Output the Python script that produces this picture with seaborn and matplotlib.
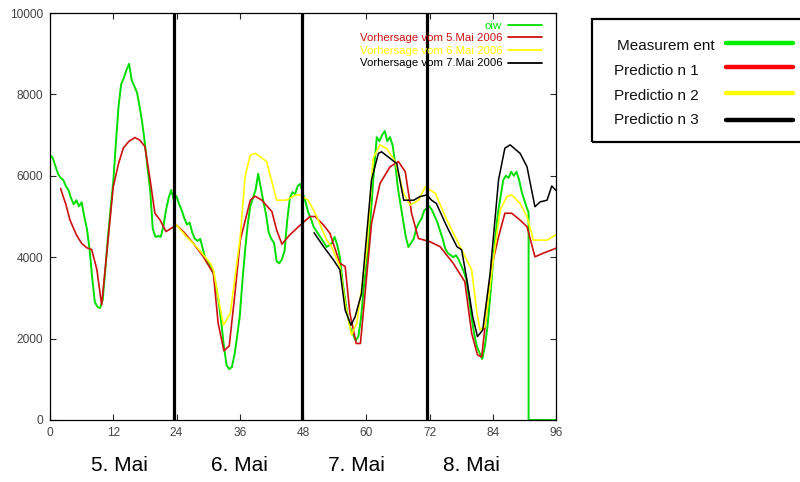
import numpy as np
import pandas as pd
import matplotlib
matplotlib.use("Agg")
import matplotlib.pyplot as plt
from matplotlib.lines import Line2D
from matplotlib.patches import Rectangle
import matplotlib.transforms as mtransforms
import seaborn as sns

# ---------------- data ----------------
meas_values = [
    6500, 6450, 6250, 6050, 5950, 5900, 5750, 5650, 5450, 5300,   # 0 - 4.5
    5400, 5250, 5350, 5000, 4700, 4200, 3500, 2900, 2780, 2750,   # 5 - 9.5
    2950, 3700, 4500, 5200, 5850, 6800, 7700, 8250, 8400, 8600,   # 10 - 14.5
    8750, 8350, 8200, 8050, 7700, 7300, 6800, 6200, 5650, 4700,   # 15 - 19.5
    4500, 4520, 4500, 4750, 5150, 5450, 5650, 5400, 5500, 5300,   # 20 - 24.5
    5150, 4950, 4800, 4850, 4600, 4450, 4400, 4450, 4200, 3950,   # 25 - 29.5
    3850, 3780, 3600, 3300, 2900, 2400, 1800, 1350, 1250, 1300,   # 30 - 34.5
    1600, 2050, 2550, 3400, 4150, 4800, 5250, 5450, 5650, 6050,   # 35 - 39.5
    5700, 5350, 5050, 4600, 4450, 4350, 3900, 3850, 3950, 4150,   # 40 - 44.5
    4900, 5450, 5600, 5550, 5750, 5800, 5550, 5350, 5100, 4950,   # 45 - 49.5
    4750, 4650, 4550, 4450, 4350, 4250, 4300, 4350, 4500, 4300,   # 50 - 54.5
    4000, 3400, 2950, 2550, 2250, 2100, 1950, 2050, 2500, 3200,   # 55 - 59.5
    3800, 4400, 5300, 6200, 6950, 6850, 7000, 7100, 6850, 6950,   # 60 - 64.5
    6750, 6300, 5700, 5300, 4900, 4500, 4250, 4350, 4450, 4700,   # 65 - 69.5
    4850, 4950, 5150, 5200, 5250, 5150, 5000, 4850, 4650, 4450,   # 70 - 74.5
    4200, 4100, 4050, 4000, 4050, 3950, 3800, 3650, 3450, 3000,   # 75 - 79.5
    2500, 2100, 1800, 1650, 1500, 1800, 2300, 3000, 3800, 4500,   # 80 - 84.5
    5100, 5500, 5900, 6000, 5950, 6100, 6000, 6100, 5900, 5600,   # 85 - 89.5
    5400, 5200,                                                   # 90 - 90.5
    5100, 0, 0,                                                   # drop at 90.8, then flat
]
meas_hours = list(np.arange(0, 91, 0.5)) + [90.8, 90.8, 96]

pred1_hours = [2.0, 3.0, 3.8, 5.0, 6.0, 7.0, 7.9, 8.9, 9.8, 10.7, 12.0, 13.0, 13.9,
               15.0, 16.1, 17.0, 18.0, 19.0, 19.9, 20.9, 22.0, 24.0, 25.3, 27.2,
               29.1, 31.0, 31.9, 33.0, 34.0, 35.0, 36.1, 38.0, 38.9, 40.2, 42.1,
               43.0, 44.0, 45.5, 47.4, 49.3, 50.3, 51.9, 53.1, 55.0, 56.0, 56.9,
               58.1, 58.9, 61.0, 62.6, 64.5, 66.1, 67.4, 68.6, 69.9, 72.1, 74.0,
               76.5, 78.7, 80.0, 81.1, 81.9, 83.8, 85.1, 86.3, 87.6, 89.2, 90.5,
               92.0, 93.6, 96.0]
pred1_values = [5690, 5300, 4910, 4550, 4340, 4230, 4190, 3690, 2830, 4010, 5730, 6300, 6680,
                6850, 6940, 6880, 6720, 5900, 5080, 4910, 4630, 4790, 4630, 4340,
                4010, 3600, 2380, 1700, 1820, 3000, 4420, 5400, 5500, 5400, 5120,
                4670, 4320, 4550, 4780, 5000, 5000, 4790, 4590, 3850, 3770, 2620,
                1880, 1880, 4830, 5810, 6220, 6350, 6100, 5080, 4460, 4380, 4260,
                3850, 3400, 2130, 1600, 1550, 3770, 4500, 5080, 5080, 4910, 4750,
                4010, 4100, 4220]

pred2_hours = [24.0, 25.9, 27.8, 30.4, 31.0, 32.0, 32.9, 34.2, 36.1, 37.0, 38.0, 39.0,
               41.1, 43.0, 44.8, 46.7, 47.4, 49.0, 50.6, 52.5, 53.4, 55.0, 56.0,
               57.2, 58.2, 60.1, 61.3, 62.6, 63.9, 65.5, 67.1, 68.3, 69.9, 71.2,
               72.1, 73.1, 75.3, 77.8, 80.0, 81.0, 81.6, 82.5, 84.1, 85.4, 86.7,
               87.6, 89.2, 90.5, 91.7, 94.3, 96.0]
pred2_values = [4790, 4500, 4260, 3850, 3690, 2950, 2330, 2620, 4500, 5980, 6510, 6550,
                6350, 5400, 5400, 5530, 5530, 5400, 5000, 4420, 4260, 3770, 2870,
                2090, 2380, 4180, 6430, 6760, 6670, 6350, 5570, 5280, 5400, 5730,
                5650, 5570, 4910, 4260, 3690, 2620, 2210, 2290, 3930, 5160, 5490,
                5530, 5320, 5000, 4420, 4420, 4550]

pred3_hours = [50.1, 51.9, 53.8, 55.0, 56.0, 57.1, 57.9, 59.1, 61.0, 62.3, 62.9, 64.5,
               65.8, 67.1, 69.0, 70.2, 71.5, 72.4, 73.3, 75.3, 77.2, 78.1, 79.1,
               80.2, 81.1, 82.1, 83.5, 85.1, 86.3, 87.3, 89.2, 90.5, 92.0, 93.0,
               94.3, 95.2, 96.0]
pred3_values = [4600, 4260, 3930, 3690, 2700, 2330, 2540, 3110, 5900, 6550, 6590, 6430,
                6300, 5400, 5400, 5490, 5530, 5400, 5320, 4750, 4260, 4180, 3440,
                2540, 2050, 2210, 3600, 5900, 6680, 6760, 6550, 6220, 5240, 5360,
                5400, 5750, 5640]

day_separators = [23.5, 47.8, 71.6]
day_labels = ["5. Mai", "6. Mai", "7. Mai", "8. Mai"]
day_label_pos = [13.1, 35.9, 58.1, 79.9]
x_ticks = [0, 12, 24, 36, 48, 60, 72, 84, 96]
y_ticks = [0, 2000, 4000, 6000, 8000, 10000]

series_labels = ["oiw", "Vorhersage vom 5.Mai 2006",
                 "Vorhersage vom 6.Mai 2006", "Vorhersage vom 7.Mai 2006"]
box_labels = ["Measurem ent", "Predictio n 1", "Predictio n 2", "Predictio n 3"]

# ---------------- style ----------------
sns.set_style("ticks")
plt.rcParams["font.family"] = ["Liberation Sans", "DejaVu Sans"]

GREEN = "#00dd00"
RED = "#cc1010"
YELLOW = "#ffff00"
BLACK = "#000000"

fig = plt.figure(figsize=(8.0, 4.82), dpi=100)
ax = fig.add_axes([50 / 800, 1 - 420 / 482, (556 - 50) / 800, (420 - 13) / 482])

sns.lineplot(x=meas_hours, y=meas_values, ax=ax, color=GREEN, lw=1.4,
             estimator=None, sort=False, label=series_labels[0])
sns.lineplot(x=pred1_hours, y=pred1_values, ax=ax, color=RED, lw=1.2,
             estimator=None, sort=False, label=series_labels[1])
sns.lineplot(x=pred2_hours, y=pred2_values, ax=ax, color=YELLOW, lw=1.2,
             estimator=None, sort=False, label=series_labels[2])
sns.lineplot(x=pred3_hours, y=pred3_values, ax=ax, color=BLACK, lw=1.1,
             estimator=None, sort=False, label=series_labels[3])

for s in day_separators:
    ax.axvline(s, color="black", lw=2.3, zorder=5)

ax.set_xlim(0, 96)
ax.set_ylim(0, 10000)
ax.set_xticks(x_ticks)
ax.set_yticks(y_ticks)
ax.set_xlabel("")
ax.set_ylabel("")
for sp in ax.spines.values():
    sp.set_visible(True)
    sp.set_linewidth(0.9)
    sp.set_color("black")
ax.tick_params(direction="in", top=True, right=True, length=4, width=0.8,
               labelsize=8.6, labelcolor="#444444", pad=5)

leg = ax.legend(loc="upper right", bbox_to_anchor=(0.996, 1.0098),
                frameon=False, markerfirst=False,
                labelcolor="linecolor", fontsize=8.2, handlelength=3.0,
                handletextpad=0.5, labelspacing=0.22, borderaxespad=0.75,
                borderpad=0.3)
for h in leg.get_lines():
    h.set_linewidth(1.3)

trans = mtransforms.blended_transform_factory(ax.transData, ax.transAxes)
for lab, pos in zip(day_labels, day_label_pos):
    ax.text(pos, -0.112, lab, transform=trans, ha="center", va="center",
            fontsize=15, color="black")

# external legend box
fig.patches.append(Rectangle((592 / 800, 1 - 142 / 482), 0.30, (142 - 19) / 482,
                             transform=fig.transFigure, fill=False,
                             edgecolor="black", lw=1.6, clip_on=False))
box_colors = ["#00ee00", "#ff0000", "#ffff00", "#000000"]
text_y = [46, 71, 96, 120]
line_y = [42.5, 67, 93, 119.5]
text_x = [617, 614, 614, 614]
for lab, c, ty, ly, tx in zip(box_labels, box_colors, text_y, line_y, text_x):
    fig.text(tx / 800, 1 - ty / 482, lab, ha="left", va="center",
             fontsize=11, color="#111111")
    fig.lines.append(Line2D([726 / 800, 793 / 800], [1 - ly / 482, 1 - ly / 482],
                            transform=fig.transFigure, color=c, lw=3.2))

fig.savefig("out.png", dpi=100)
